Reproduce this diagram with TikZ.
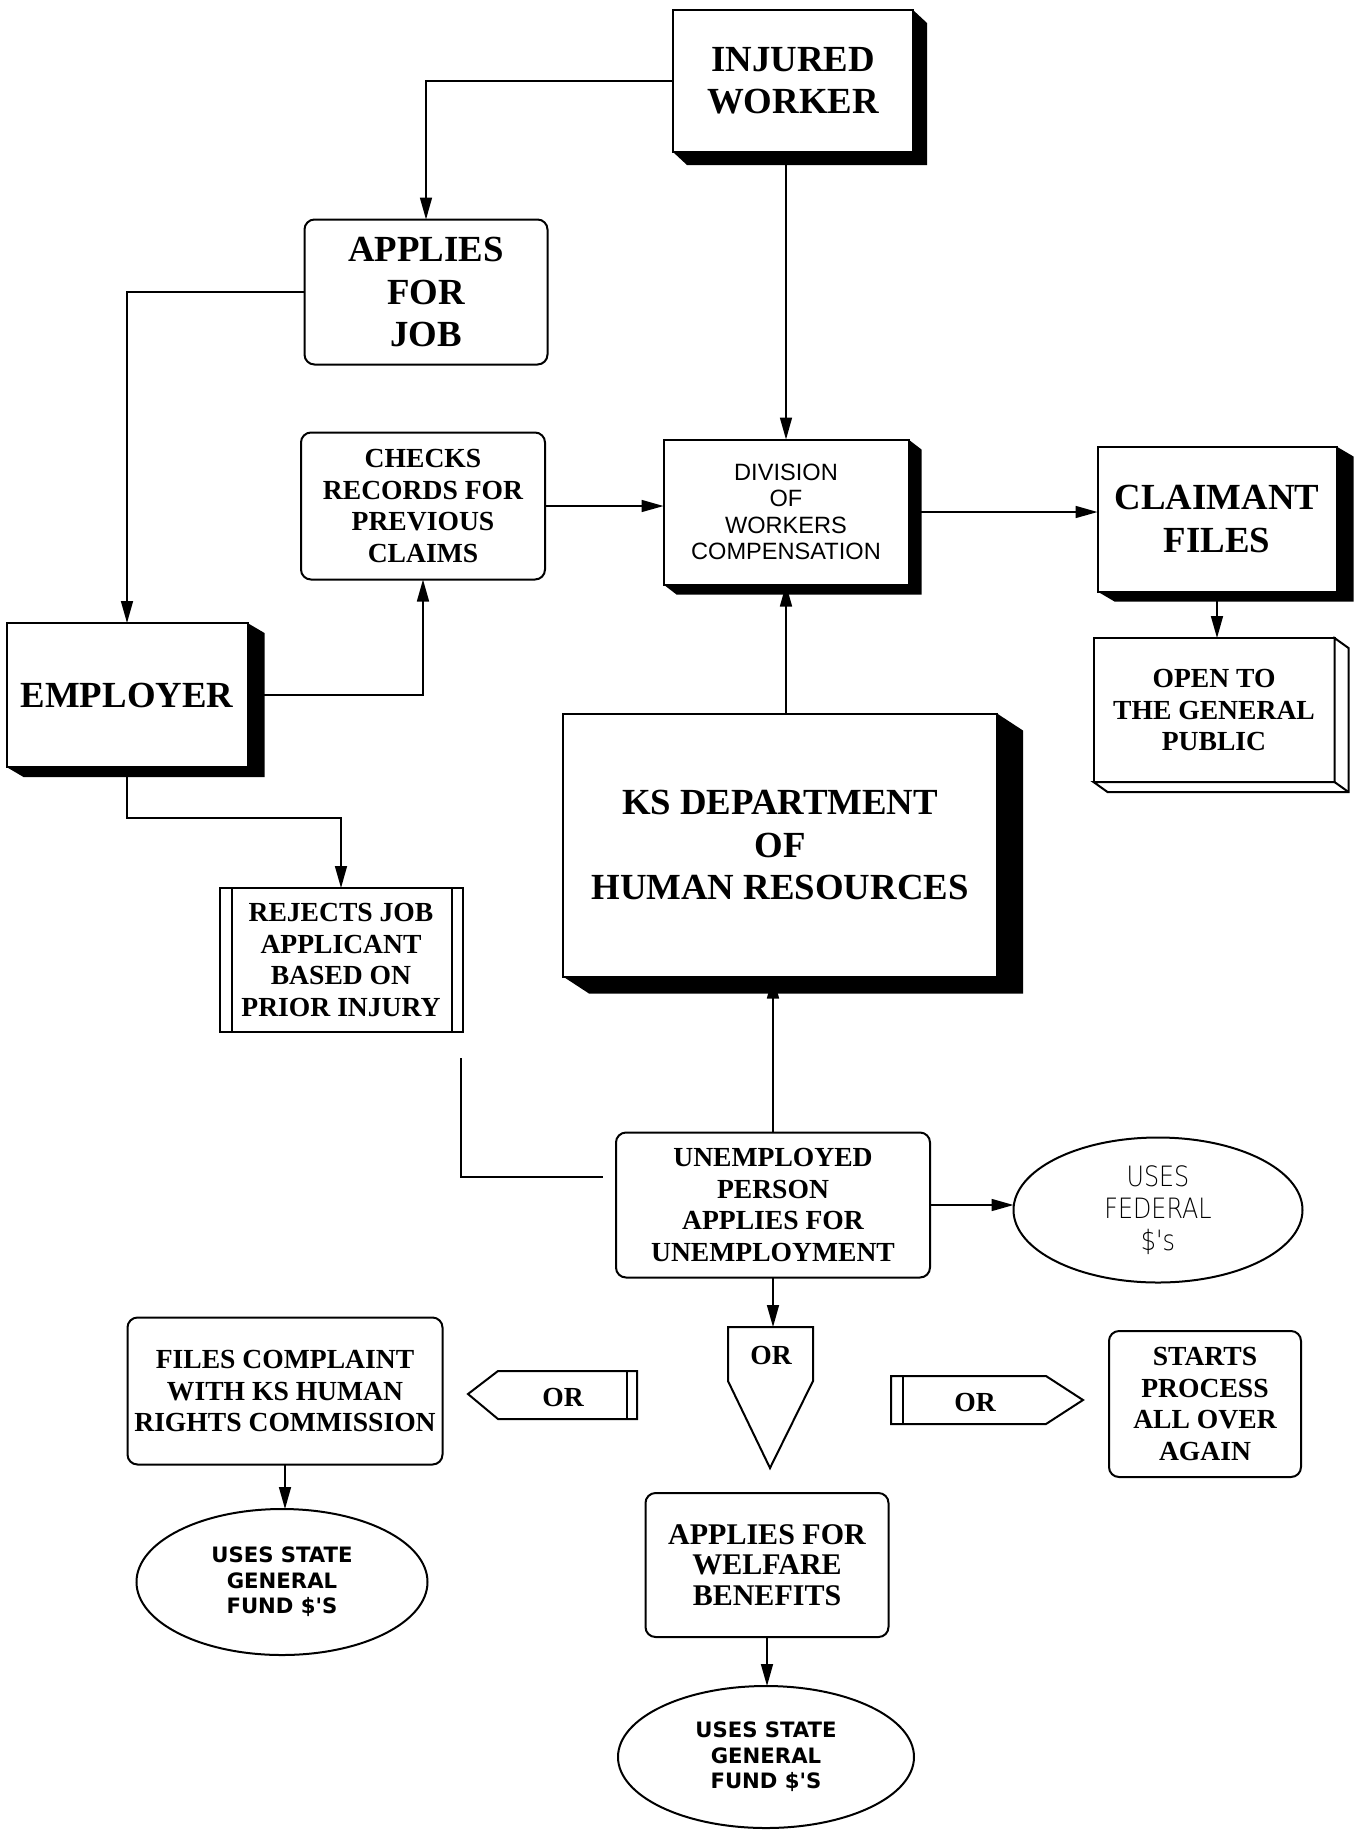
\documentclass[tikz,border=0pt]{standalone}
\usepackage{fontspec}
\setmainfont{Liberation Serif}
\newfontfamily\divfont{Liberation Sans}
\newfontfamily\fundfont{DejaVu Sans}
\newfontfamily\fedfont[FakeStretch=0.85]{DejaVu Sans ExtraLight}
\usetikzlibrary{shapes.geometric,arrows.meta,calc}

\tikzset{
  box/.style={draw, line width=1pt, fill=white, align=center, inner sep=0pt, outer sep=0pt},
  roundbox/.style={box, rounded corners=5pt},
  oval/.style={box, ellipse},
  boxsize/.style 2 args={minimum width=#1*0.5pt, minimum height=#2*0.5pt},
  arr/.style={line width=0.8pt, -{Triangle[length=11pt,width=6pt]}},
  bigtext/.style={font=\fontsize{18.4}{21.2}\selectfont\bfseries},
  midtext/.style={font=\fontsize{13.8}{15.8}\selectfont\bfseries},
  welfaretext/.style={font=\fontsize{15}{15.3}\selectfont\bfseries},
  divtext/.style={font=\divfont\fontsize{11.8}{13.2}\selectfont},
  fedtext/.style={font=\fedfont\fontsize{14}{16}\selectfont},
  fundtext/.style={font=\fundfont\fontsize{10.6}{12.8}\selectfont\bfseries}
}

\begin{document}
\begin{tikzpicture}[x=0.5pt, y=-0.5pt]
    \path[fill=white] (0,0) rectangle (1354,1838);
    \useasboundingbox (0,0) rectangle (1354,1838);

    % Top part: worker, job, division
    \node[box, boxsize={240}{142}, bigtext] (worker) at (793,81) {INJURED\\WORKER};
    \node[roundbox, boxsize={243}{145}, bigtext] (applies) at (426,292) {APPLIES\\FOR\\JOB};
    \node[roundbox, boxsize={244}{147}, midtext] (checks) at (423,506) {CHECKS\\RECORDS FOR\\PREVIOUS\\CLAIMS};
    \node[box, boxsize={245}{145}, divtext] (division) at (786,512) {DIVISION\\OF\\WORKERS\\COMPENSATION};
    \node[box, boxsize={239}{145}, bigtext] (claimant) at (1217,519) {CLAIMANT\\FILES};
    \node[box, boxsize={241}{144}, midtext] (public) at (1214,710) {OPEN TO\\THE GENERAL\\PUBLIC};
    \node[box, boxsize={241}{144}, bigtext] (employer) at (127,695) {EMPLOYER};
    \node[box, boxsize={434}{263}, bigtext] (ksdhr) at (780,845) {KS DEPARTMENT\\OF\\HUMAN RESOURCES};
    \node[box, boxsize={243}{144}, midtext] (rejects) at (341,960) {REJECTS JOB\\APPLICANT\\BASED ON\\PRIOR INJURY};

    % Bottom part: unemployment and the three choices
    \node[roundbox, boxsize={314}{145}, midtext] (unemp) at (773,1205) {UNEMPLOYED\\PERSON\\APPLIES FOR\\UNEMPLOYMENT};
    \node[oval, boxsize={289}{145}, fedtext] (federal) at (1158,1210) {USES\\FEDERAL\\\$'s\hspace{12pt}};
    \node[roundbox, boxsize={192}{146}, midtext] (restart) at (1205,1404) {STARTS\\PROCESS\\ALL OVER\\AGAIN};
    \node[roundbox, boxsize={315}{147}, midtext] (complaint) at (285,1391) {FILES COMPLAINT\\WITH KS HUMAN\\RIGHTS COMMISSION};
    \node[oval, boxsize={291}{146}, fundtext] (fundL) at (282,1582) {USES STATE\\GENERAL\\FUND \$'S};
    \node[roundbox, boxsize={243}{144}, welfaretext] (welfare) at (767,1565) {APPLIES FOR\\WELFARE\\BENEFITS};
    \node[oval, boxsize={296}{142}, fundtext] (fundB) at (766,1757) {USES STATE\\GENERAL\\FUND \$'S};

    % OR pointers
    \draw[line width=1pt] (728,1327) -- (813,1327) -- (813,1381) -- (770,1468) -- (728,1381) -- cycle;
    \coordinate (orCtop) at (771,1327);
    \node[midtext] (orC) at (771,1355) {OR};
    \draw[line width=1pt] (468,1394) -- (498,1371) -- (637,1371) -- (637,1419) -- (498,1419) -- cycle;
    \draw[line width=1pt] (627,1371) -- (627,1419);
    \node[midtext] (orL) at (563,1397) {OR};
    \draw[line width=1pt] (891,1376) -- (1046,1376) -- (1083,1400) -- (1046,1424) -- (891,1424) -- cycle;
    \draw[line width=1pt] (903,1376) -- (903,1424);
    \node[midtext] (orR) at (975,1402) {OR};

    % 3D shadows
    \foreach \n/\dx/\dy in {worker/14/13, division/13/10, claimant/17/10, employer/17/10, ksdhr/26/17} {
        \fill (\n.north east) -- ++(\dx,\dy) -- ($(\n.south east)+(\dx,\dy)$) -- ($(\n.south west)+(\dx,\dy)$) -- (\n.south west) -- (\n.south east) -- cycle;
    }
    \draw[line width=1pt, fill=white] (public.north east) -- ++(14,10) -- ($(public.south east)+(14,10)$) -- ($(public.south west)+(14,10)$) -- (public.south west) -- (public.south east) -- cycle;
    \draw[line width=1pt] (public.south east) -- ++(14,10);
    \draw[line width=1pt] ($(rejects.north west)+(12,0)$) -- ($(rejects.south west)+(12,0)$);
    \draw[line width=1pt] ($(rejects.north east)+(-11,0)$) -- ($(rejects.south east)+(-11,0)$);

    % Connectors
    \draw[arr] (worker.west) -| (applies.north);
    \draw[arr] (worker.south -| division.north) -- (division.north);
    \draw[arr] (applies.west) -| (employer.north);
    \draw[arr] (employer.east) -| (checks.south);
    \draw[arr] (checks.east) -- (checks.east -| division.west);
    \draw[arr] (division.east) -- (division.east -| claimant.west);
    \draw[arr] (claimant.south) -- (claimant.south |- public.north);
    \draw[arr] (division.south |- ksdhr.north) -- (division.south);
    \draw[arr] (unemp.north) -- (unemp.north |- ksdhr.south);
    \draw[arr] (employer.south) -- ++(0,51) -| (rejects.north);
    \coordinate (rejtail) at (461,1058);
    \coordinate (rejend) at (603,1177);
    \draw[line width=0.8pt] (rejtail) |- (rejend);
    \draw[arr] (unemp.east) -- (unemp.east -| federal.west);
    \draw[arr] (unemp.south) -- (unemp.south |- orCtop);
    \draw[arr] (complaint.south) -- (complaint.south |- fundL.north);
    \draw[arr] (welfare.south) -- (welfare.south |- fundB.north);
\end{tikzpicture}
\end{document}
